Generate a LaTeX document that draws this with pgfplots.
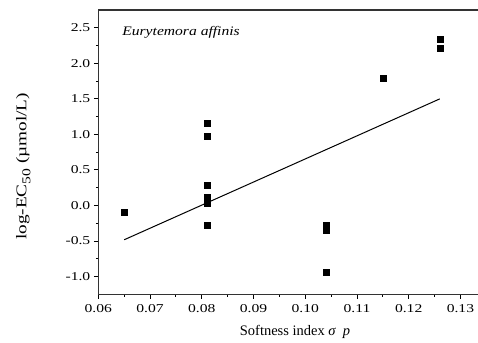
\documentclass[border=0pt]{standalone}
\usepackage{fontspec}
\setmainfont{Liberation Serif}
\newfontfamily\tickfont[FakeStretch=1.3]{Liberation Serif}
\newfontfamily\labfont[FakeStretch=1.3]{Liberation Serif}
\newfontfamily\titlefont[FakeStretch=1.2]{Liberation Serif}
\usepackage{pgfplots}
\pgfplotsset{compat=1.18}

\begin{document}
\begin{tikzpicture}
\begin{axis}[
  scale only axis,
  width=379.7pt, height=284.3pt,
  xmin=0.06, xmax=0.1334,
  ymin=-1.25, ymax=2.75,
  axis x line*=box,
  axis y line*=left,
  axis line style={line width=1.2pt, black!80},
  xtick={0.06,0.07,...,0.131},
  xticklabels={0.06,0.07,0.08,0.09,0.10,0.11,0.12,0.13},
  ytick={-1,-0.5,0,0.5,1,1.5,2,2.5},
  yticklabels={-1.0,-0.5,0.0,0.5,1.0,1.5,2.0,2.5},
  minor x tick num=1,
  minor y tick num=1,
  xtick pos=bottom,
  ytick pos=left,
  tick align=outside,
  major tick length=4.5pt,
  minor tick length=2.5pt,
  every tick/.style={black, line width=0.9pt},
  /pgf/number format/assume math mode=true,
  tick label style={font=\tickfont\fontsize{12}{14}\selectfont},
  xticklabel style={yshift=-2pt},
  xlabel={Softness index {\itshape σ\ \ p}},
  xlabel style={at={(axis description cs:0.518,-0.1316)}, anchor=center,
    font=\fontsize{14.5}{16}\selectfont},
  ylabel={log-EC\raisebox{-0.28em}{\fontsize{12}{13}\selectfont 50} (µmol/L)},
  ylabel style={at={(axis description cs:-0.1975,0.45)}, anchor=center,
    font=\labfont\fontsize{14.8}{17}\selectfont},
  clip=false,
]
% measured toxicity values
\addplot[only marks, mark=square*, mark size=3pt, black] coordinates {
  (0.065,-0.10)
  (0.081,1.16) (0.081,0.98) (0.081,0.28) (0.081,0.12)
  (0.081,0.07) (0.081,0.03) (0.081,-0.28)
  (0.104,-0.28) (0.104,-0.35) (0.104,-0.94)
  (0.115,1.79)
  (0.126,2.34) (0.126,2.21)
};
% linear fit
\addplot[black, line width=1pt] coordinates {(0.065,-0.483) (0.126,1.499)};
\node[anchor=west, font=\titlefont\fontsize{13}{15}\selectfont\itshape]
  at (axis description cs:0.054,0.923) {Eurytemora affinis};
\end{axis}
\pgfresetboundingbox
\path ([shift={(-98.3pt,-48.7pt)}]current axis.south west)
  rectangle ([shift={(0pt,10pt)}]current axis.north east);
\end{tikzpicture}
\end{document}
